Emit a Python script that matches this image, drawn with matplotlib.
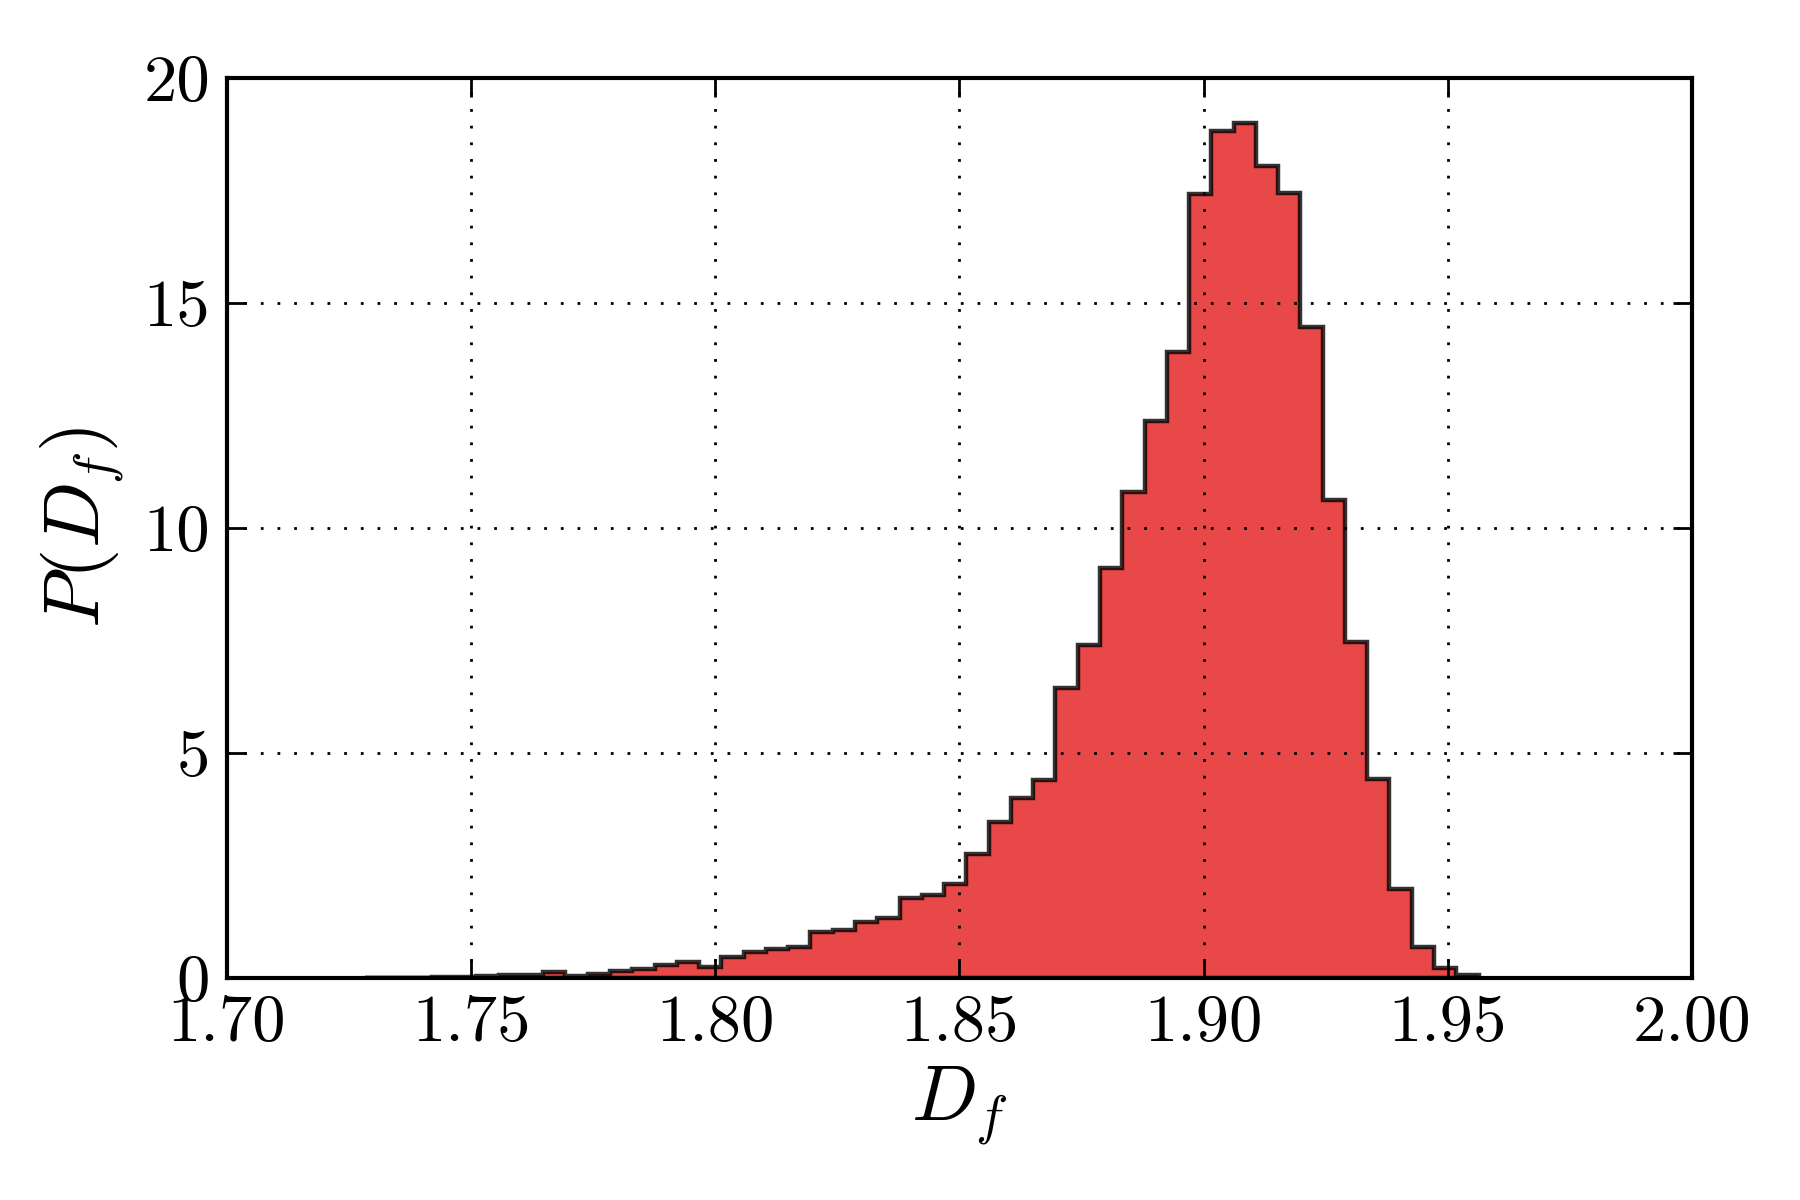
#!/usr/bin/env python3
"""
Histogram of the fractal dimension D_f, classic matplotlib look
"""

import matplotlib
matplotlib.use('Agg')
import matplotlib.pyplot as plt
import numpy as np

# bin range (50 equal bins)
df_min = 1.7283
df_max = 1.9563
n_bins = 50

# bin heights P(D_f), left to right
heights = [0.01, 0.005, 0.005, 0.02, 0.03, 0.04, 0.06, 0.06, 0.13, 0.05,
           0.08, 0.16, 0.20, 0.28, 0.35, 0.25, 0.46, 0.57, 0.64, 0.70,
           1.03, 1.06, 1.25, 1.34, 1.78, 1.84, 2.08, 2.75, 3.47, 3.99,
           4.40, 6.45, 7.39, 9.11, 10.80, 12.37, 13.92, 17.42, 18.83, 18.99,
           18.04, 17.45, 14.46, 10.62, 7.47, 4.42, 1.98, 0.69, 0.22, 0.07]

x_ticks = [1.70, 1.75, 1.80, 1.85, 1.90, 1.95, 2.00]
y_ticks = [0, 5, 10, 15, 20]

# Computer Modern look
plt.rcParams['font.family'] = 'serif'
plt.rcParams['font.serif'] = ['cmr10']
plt.rcParams['mathtext.fontset'] = 'cm'
plt.rcParams['axes.unicode_minus'] = False
plt.rcParams['axes.formatter.use_mathtext'] = True

edges = np.linspace(df_min, df_max, n_bins + 1)
centers = 0.5 * (edges[:-1] + edges[1:])

fig = plt.figure(figsize=(9, 6), dpi=200)
ax = fig.add_axes([0.126, 0.185, 0.814, 0.75])

ax.hist(centers, bins=edges, weights=heights, histtype='stepfilled',
        facecolor='#e41a1c', edgecolor='black', alpha=0.8, linewidth=1.6)

ax.set_xlim(1.70, 2.00)
ax.set_ylim(0, 20)
ax.set_xticks(x_ticks)
ax.set_yticks(y_ticks)
ax.set_xticklabels([f'{t:.2f}' for t in x_ticks])
ax.set_yticklabels([str(t) for t in y_ticks])

ax.tick_params(direction='in', top=True, right=True, length=7, width=1,
               labelsize=24, pad=6)
for s in ax.spines.values():
    s.set_linewidth(1.5)

# sparse dotted grid like the old default
ax.grid(True, color='black', linestyle=(0, (1, 5)), linewidth=1.0)
ax.set_axisbelow(False)

ax.set_xlabel('$D_f$', fontsize=28, labelpad=4)
ax.set_ylabel('$P(D_f)$', fontsize=28, labelpad=6)

plt.savefig('out.png', dpi=200, facecolor='white')
plt.close()
